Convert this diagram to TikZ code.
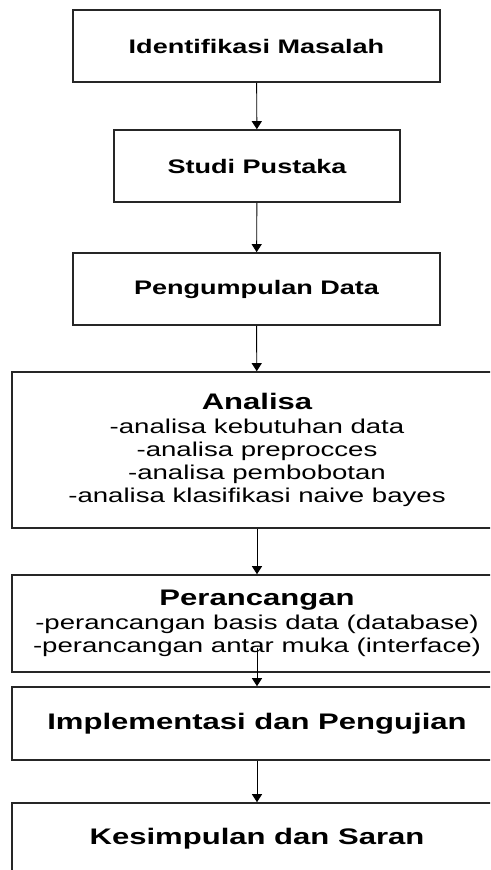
\documentclass[tikz,border=0pt]{standalone}
\usepackage{fontspec}
\setmainfont[FakeStretch=1.38]{Liberation Sans}
\usetikzlibrary{arrows.meta}

\newcommand\headfont{\fontsize{19.6}{22}\bfseries\selectfont}
\newcommand\bighead{\fontsize{22.5}{25}\bfseries\selectfont}
\newcommand\bodyfont{\fontsize{20}{23}\selectfont}

\begin{document}
\begin{tikzpicture}[x=1pt, y=-1pt, line width=1.6pt, black!85,
  stage/.style={draw, fill=white, text=black, align=center, inner sep=0pt},
  flow/.style={line width=0.9pt, black, -{Triangle[width=10pt, length=8pt]}}]
\useasboundingbox (0, 0) rectangle (490, 870);
\clip (0, 0) rectangle (490, 870);

% Top three steps
\node[stage, minimum width=367, minimum height=72, font=\headfont] (masalah) at (256.5, 46) {Identifikasi Masalah};
\node[stage, minimum width=286, minimum height=72, font=\headfont] (pustaka) at (257, 166) {Studi Pustaka};
\node[stage, minimum width=367, minimum height=72, font=\headfont] (data) at (256.5, 289) {Pengumpulan Data};

% Wide steps (cut off at the right)
\node[stage, minimum width=490, minimum height=156, font=\bodyfont] (analisa) at (257, 450)
  {{\bighead Analisa}\\[1pt] -analisa kebutuhan data\\ -analisa preprocces\\ -analisa pembobotan\\ -analisa klasifikasi naive bayes};
\node[stage, minimum width=490, minimum height=97, font=\bodyfont] (rancang) at (257, 623.5)
  {{\bighead Perancangan}\\[1pt] -perancangan basis data (database)\\ -perancangan antar muka (interface)};
\node[stage, minimum width=490, minimum height=73, font=\bighead] (uji) at (257, 723.5) {Implementasi dan Pengujian};
\node[stage, minimum width=490, minimum height=72, font=\bighead] (saran) at (257, 839) {Kesimpulan dan Saran};

% Arrows
\coordinate (rancangout) at (257, 648);
\draw[flow] (masalah) -- (pustaka);
\draw[flow] (pustaka) -- (data);
\draw[flow] (data) -- (analisa);
\draw[flow] (analisa) -- (rancang);
\draw[flow] (rancangout) -- (uji.north);
\draw[flow] (uji) -- (saran);
\end{tikzpicture}
\end{document}
